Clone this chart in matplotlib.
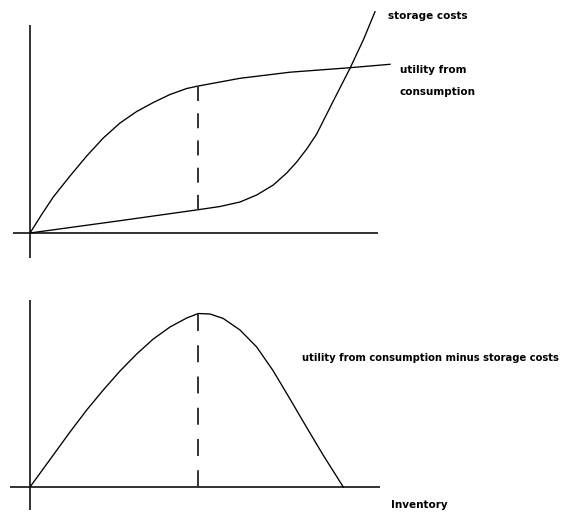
import matplotlib
matplotlib.use("Agg")
import matplotlib.pyplot as plt

plt.rcParams['lines.scale_dashes'] = False

# ---- Data (inventory on x, value on y; origin at 0,0) ----
# Top panel: utility from consumption
util_x = [0, 12, 23.3, 40, 56.7, 73.3, 90, 106.7, 123.3, 140, 156.7, 168.3, 210, 260, 320, 360]
util_y = [0, 19, 36, 57, 77, 95, 110, 121.5, 130.5, 138.5, 144.5, 147, 154.7, 160.8, 165.3, 168.7]
# Top panel: storage costs
stor_x = [0, 90, 168.3, 190, 210, 226.7, 243.3, 256.7, 266.7, 276.7, 286.7, 303.3, 320, 333.3, 345]
stor_y = [0, 12.3, 23.3, 26.5, 31, 38, 48, 60, 71, 84, 99, 132, 164.7, 193, 221.3]
# Bottom panel: utility from consumption minus storage costs
net_x = [0, 23.3, 40, 56.7, 73.3, 90, 106.7, 123.3, 140, 156.7, 168.3, 180, 193.3, 210, 226.7,
         243.3, 260, 276.7, 293.3, 313.3]
net_y = [0, 32, 55, 77, 97, 116, 133, 148, 160, 169, 173.5, 173, 168.5, 157, 140,
         116, 88, 59.5, 31.7, 0]
opt_x = 168.3          # optimal inventory (dashed line)
opt_top = (147, 23.3)  # utility / storage cost at optimum (top panel)
opt_net = 173.5        # net utility at optimum

labels_top = ["storage costs", "utility from", "consumption"]
label_bottom = "utility from consumption minus storage costs"
xlabel = "Inventory"

W, H = 561, 516
fig = plt.figure(figsize=(W / 100, H / 100), dpi=100)
fig.patch.set_facecolor('white')

font = dict(family=['DejaVu Sans'], fontweight='bold', fontsize=7.5)
axis_kw = dict(color='#333333', lw=1.4, solid_capstyle='butt')
curve_kw = dict(color='black', lw=0.95)
dash_kw = dict(color='#333333', lw=1.4)

# Top panel: covers pixel rows 0..258, origin at pixel (30, 233)
ax1 = fig.add_axes([0, (H - 258) / H, 1, 258 / H])
ax1.set_xlim(-30, W - 30)
ax1.set_ylim(233 - 258, 233)
ax1.axis('off')
ax1.plot([-17, 348], [0, 0], **axis_kw)
ax1.plot([0, 0], [-26, 208], **axis_kw)
ax1.plot(util_x, util_y, **curve_kw)
ax1.plot(stor_x, stor_y, **curve_kw)
ax1.plot([opt_x, opt_x], list(opt_top), dashes=(10.8, 8.8), **dash_kw)
ax1.text(358, 217, labels_top[0], ha='left', va='center', **font)
ax1.text(370, 163, labels_top[1], ha='left', va='center', **font)
ax1.text(370, 141, labels_top[2], ha='left', va='center', **font)

# Bottom panel: covers pixel rows 260..516, origin at pixel (30, 487)
ax2 = fig.add_axes([0, 0, 1, 256 / H])
ax2.set_xlim(-30, W - 30)
ax2.set_ylim(487 - 516, 487 - 260)
ax2.axis('off')
ax2.plot([-20, 350], [0, 0], **axis_kw)
ax2.plot([0, 0], [-23, 187], **axis_kw)
ax2.plot(net_x, net_y, **curve_kw)
ax2.plot([opt_x, opt_x], [opt_net, 0], dashes=(12.2, 10.3), **dash_kw)
ax2.text(272, 129, label_bottom, ha='left', va='center',
         **{**font, 'fontsize': 7.2})
ax2.text(361, -18, xlabel, ha='left', va='center', **font)

fig.savefig('out.png', dpi=100, facecolor='white')
